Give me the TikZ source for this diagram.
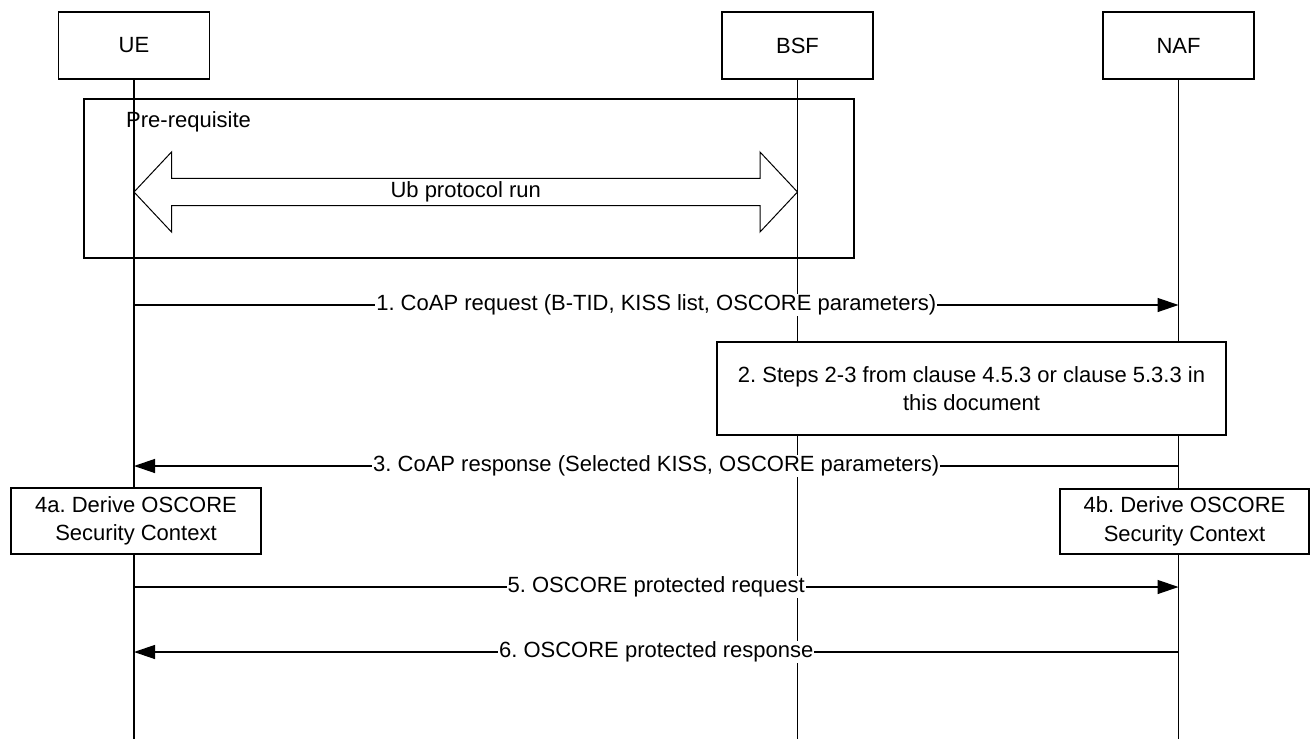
\documentclass[tikz,border=0pt]{standalone}
\usepackage{fontspec}
\setmainfont{Liberation Sans}
\frenchspacing
\usetikzlibrary{arrows.meta,calc}

\begin{document}
\begin{tikzpicture}[x=1pt,y=-1pt,font=\fontsize{22}{28.5}\selectfont\frenchspacing,
	entity/.style={draw,fill=white,line width=1.3pt,minimum width=151pt,minimum height=67pt,inner sep=0pt},
	actionbox/.style={draw,fill=white,line width=1.3pt,inner sep=0pt,align=center},
	life/.style={line width=1.3pt},
	msg/.style={line width=1.3pt,-{Triangle[length=21pt,width=14pt]}},
	msglabel/.style={fill=white,inner sep=1pt}]
		
		\useasboundingbox (0,0) rectangle (1314,749);
		
		\node(ue) at (134,45.5)[entity]{UE};
		\node(bsf) at (797.5,45.5)[entity]{BSF};
		\node(naf) at (1178.5,45.5)[entity]{NAF};
		\coordinate (ueend) at (134,739);
		\coordinate (bsfend) at (797.5,739);
		\coordinate (nafend) at (1178.5,739);
			\draw[life] (ue) -- (ueend);
			\draw[life] (bsf) -- (bsfend);
			\draw[life] (naf) -- (nafend);
		
		% pre-requisite block
		\node(pre) at (469,178.5)[draw,line width=1.3pt,minimum width=770pt,minimum height=159pt]{};
		\node(pretext) at (126,122)[anchor=west,inner sep=0pt]{Pre-requisite};
		\coordinate (ubL) at (134,192);
		\coordinate (ubR) at (797.5,192);
			\draw[line width=1pt] (ubL) -- ++(37.5,-40) -- ++(0,26.3) -- ($(ubR)+(-37.5,-13.7)$) -- ++(0,-26.3) -- (ubR)
				-- ++(-37.5,40) -- ++(0,-26.3) -- ($(ubL)+(37.5,13.7)$) -- ++(0,26.3) -- cycle;
		\node(ub) at ($(ubL)!0.5!(ubR)$){Ub protocol run};
		
		% message end points
		\coordinate (ue1) at (134,305);
		\coordinate (naf1) at (1178.5,305);
		\coordinate (ue3) at (134,466);
		\coordinate (naf3) at (1178.5,466);
		\coordinate (ue5) at (134,587);
		\coordinate (naf5) at (1178.5,587);
		\coordinate (ue6) at (134,652);
		\coordinate (naf6) at (1178.5,652);
		
		\node(step2) at (971.5,388.5)[actionbox,minimum width=509pt,minimum height=93pt]{2. Steps 2-3 from clause 4.5.3 or clause 5.3.3 in\\this document};
		\node(step4a) at (136,521)[actionbox,minimum width=250pt,minimum height=66pt]{4a. Derive OSCORE\\Security Context};
		\node(step4b) at (1184.5,521.5)[actionbox,minimum width=249pt,minimum height=65pt]{4b. Derive OSCORE\\Security Context};
		
			\draw[msg] (ue1) -- node[msglabel]{1. CoAP request (B-TID, KISS list, OSCORE parameters)} (naf1);
			\draw[msg] (naf3) -- node[msglabel]{3. CoAP response (Selected KISS, OSCORE parameters)} (ue3);
			\draw[msg] (ue5) -- node[msglabel]{5. OSCORE protected request} (naf5);
			\draw[msg] (naf6) -- node[msglabel]{6. OSCORE protected response} (ue6);
		
	\end{tikzpicture}
\end{document}
